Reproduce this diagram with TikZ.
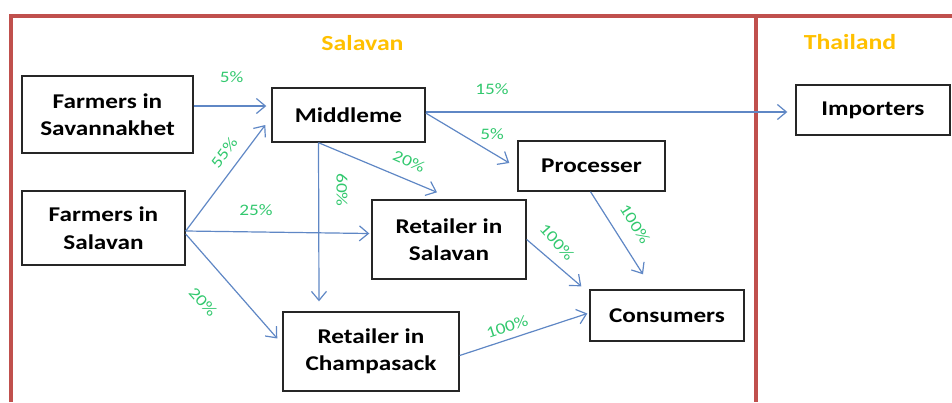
\documentclass[tikz,border=0pt]{standalone}
\usepackage{fontspec}
\setmainfont{Carlito}[FakeStretch=1.2]
\usetikzlibrary{arrows.meta,calc}
\definecolor{framered}{RGB}{192,80,77}
\definecolor{titleyellow}{RGB}{255,192,0}
\definecolor{pctgreen}{RGB}{50,200,110}
\definecolor{arrowblue}{RGB}{95,135,197}
\begin{document}
\begin{tikzpicture}[x=1pt,y=-1pt,
  box/.style={draw=black!85, line width=1.4pt, fill=white, align=center,
    font=\fontsize{21}{27.5}\selectfont\bfseries, inner sep=0pt},
  flow/.style={draw=arrowblue, line width=1.2pt, -{Straight Barb[length=9pt,width=15pt]}},
  pct/.style={text=pctgreen, font=\fontsize{16}{16}\selectfont, inner sep=0pt},
  regiontitle/.style={text=titleyellow, font=\fontsize{21.5}{21.5}\selectfont\bfseries, anchor=base, inner sep=0pt},
  regionline/.style={draw=framered, line width=4pt}]
\useasboundingbox (0,0) rectangle (952,402);
% region frame
\draw[regionline] (10.5,402) -- (10.5,15.5) -- (952,15.5);
\draw[regionline] (755.5,15.5) -- (755.5,402);
\node[regiontitle] (tsal) at (362.5,50) {Salavan};
\node[regiontitle] (ttha) at (850,49) {Thailand};
% boxes
\node[box, minimum width=171pt, minimum height=77pt] (sav) at (107.5,114.5) {Farmers in\\Savannakhet};
\node[box, minimum width=153pt, minimum height=54pt] (mid) at (348.5,115) {Middleme};
\node[box, minimum width=163pt, minimum height=74pt] (fsal) at (103.5,228) {Farmers in\\Salavan};
\node[box, minimum width=154pt, minimum height=79pt] (rsal) at (449,239.5) {Retailer in\\Salavan};
\node[box, minimum width=176pt, minimum height=79pt] (rch) at (371,351.5) {Retailer in\\Champasack};
\node[box, minimum width=147pt, minimum height=50pt] (proc) at (591.5,166) {Processer};
\node[box, minimum width=154pt, minimum height=51pt] (cons) at (667,315.5) {Consumers};
\node[box, minimum width=154pt, minimum height=50pt] (imp) at (873,110) {Importers};
% connectors
\draw[flow] ($(sav.east)+(0,-8.5)$) -- ($(mid.west)+(-5,-9)$);
\draw[flow] ($(fsal.east)+(0,3)$) -- ($(mid.west)+(-6,10)$);
\draw[flow] ($(fsal.east)+(0,3)$) -- ($(rsal.west)+(-2,-6)$);
\draw[flow] ($(fsal.east)+(0,6)$) -- ($(rch.west)+(-5,-13)$);
\draw[flow] ($(mid.south)+(-30,0)$) -- ($(rch.north)+(-52,-10)$);
\draw[flow] ($(mid.south)+(-30,0)$) -- ($(rsal.north)+(-12,-7)$);
\draw[flow] ($(mid.east)+(0,-3)$) -- ($(imp.west)+(-8,2)$);
\draw[flow] ($(mid.east)+(0,-2)$) -- ($(proc.west)+(-8,-3)$);
\draw[flow] ($(proc.south)+(-1,0)$) -- ($(cons.north)+(-24,-15)$);
\draw[flow] (rsal.east) -- ($(cons.north west)+(-8,-3)$);
\draw[flow] ($(rch.east)+(0,4)$) -- ($(cons.west)+(-2,-2)$);
% percentages
\node[pct] (p1) at (231.5,77) {5\%};
\node[pct] (p2) at (492,89) {15\%};
\node[pct] (p3) at (492,134) {5\%};
\node[pct, rotate=53] (p4) at (224,153) {55\%};
\node[pct, rotate=-24] (p5) at (409,161) {20\%};
\node[pct, rotate=-90] (p6) at (342,190) {60\%};
\node[pct] (p7) at (256,210) {25\%};
\node[pct, rotate=-48] (p8) at (203,302) {20\%};
\node[pct, rotate=-48] (p9) at (557,242) {100\%};
\node[pct, rotate=-58] (p10) at (635,224) {100\%};
\node[pct, rotate=18] (p11) at (507,327) {100\%};
\end{tikzpicture}
\end{document}
